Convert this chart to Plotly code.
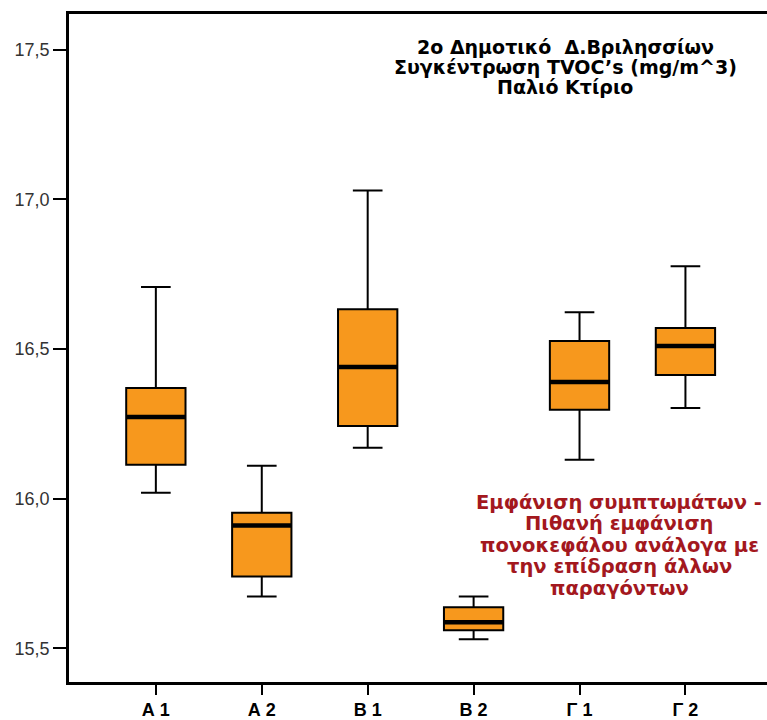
import plotly.graph_objects as go

categories = ["Α 1", "Α 2", "Β 1", "Β 2", "Γ 1", "Γ 2"]
upper_whisker = [16.707, 16.11, 17.03, 15.673, 16.623, 16.777]
q3_values = [16.37, 15.953, 16.633, 15.637, 16.527, 16.57]
medians = [16.273, 15.91, 16.44, 15.587, 16.39, 16.51]
q1_values = [16.113, 15.74, 16.243, 15.56, 16.297, 16.413]
lower_whisker = [16.02, 15.673, 16.17, 15.53, 16.13, 16.303]
y_ticks = [15.5, 16.0, 16.5, 17.0, 17.5]

title_lines = ["2ο Δημοτικό  Δ.Βριλησσίων", "Συγκέντρωση TVOC’s (mg/m^3)", "Παλιό Κτίριο"]
note_lines = ["Εμφάνιση συμπτωμάτων -", "Πιθανή εμφάνιση", "πονοκεφάλου ανάλογα με",
              "την επίδραση άλλων", "παραγόντων"]

W, H = 767, 720
M_L, M_R, M_T, M_B = 69, 0, 14, 36
box_w = 0.56
xs = list(range(len(categories)))

fig = go.Figure()
fig.add_trace(go.Box(
    x=xs, q1=q1_values, median=medians, q3=q3_values,
    lowerfence=lower_whisker, upperfence=upper_whisker,
    width=box_w, whiskerwidth=0.5,
    fillcolor="#F7981D", line=dict(color="black", width=2),
    boxpoints=False, hoverinfo="skip", showlegend=False,
))

mx, my = [], []
for i, m in zip(xs, medians):
    mx += [i - box_w / 2, i + box_w / 2, None]
    my += [m, m, None]
fig.add_trace(go.Scatter(x=mx, y=my, mode="lines", line=dict(color="black", width=4.5),
                         hoverinfo="skip", showlegend=False))

plot_w = W - M_L - M_R
plot_h = H - M_T - M_B


def px_to_paper(xp, yp):
    return (xp - M_L) / plot_w, (H - M_B - yp) / plot_h


for k, t in enumerate(title_lines):
    px, py = px_to_paper(565, 47 + 20 * k)
    fig.add_annotation(text=f"<b>{t}</b>", xref="paper", yref="paper", x=px, y=py,
                       xanchor="center", yanchor="middle", showarrow=False,
                       font=dict(family="DejaVu Sans, Verdana", size=19, color="black"))

for k, t in enumerate(note_lines):
    px, py = px_to_paper(619, 504 + 21.5 * k)
    fig.add_annotation(text=f"<b>{t}</b>", xref="paper", yref="paper", x=px, y=py,
                       xanchor="center", yanchor="middle", showarrow=False,
                       font=dict(family="DejaVu Sans, Verdana", size=19.5, color="#A3181E"))

fig.update_layout(
    width=W, height=H,
    margin=dict(l=M_L, r=M_R, t=M_T, b=M_B),
    paper_bgcolor="white", plot_bgcolor="white",
    separators=",.",
    xaxis=dict(range=[-0.82, 5.77], tickmode="array", tickvals=xs, ticktext=categories,
               showline=True, mirror=True, linecolor="black", linewidth=2.5,
               ticks="outside", ticklen=10, tickwidth=1.5, tickcolor="black",
               showgrid=False, zeroline=False,
               tickfont=dict(family="Liberation Sans Narrow, Liberation Sans, Arial", size=18,
                             color="black", weight="bold")),
    yaxis=dict(range=[15.387, 17.62], tickmode="array", tickvals=y_ticks, tickformat=".1f",
               showline=True, linecolor="black", linewidth=2.5,
               ticks="outside", ticklen=13, tickwidth=1.5, tickcolor="black",
               showgrid=False, zeroline=False,
               tickfont=dict(family="Liberation Sans, Arial", size=18, color="#333333")),
)

fig.write_html("out.html")
